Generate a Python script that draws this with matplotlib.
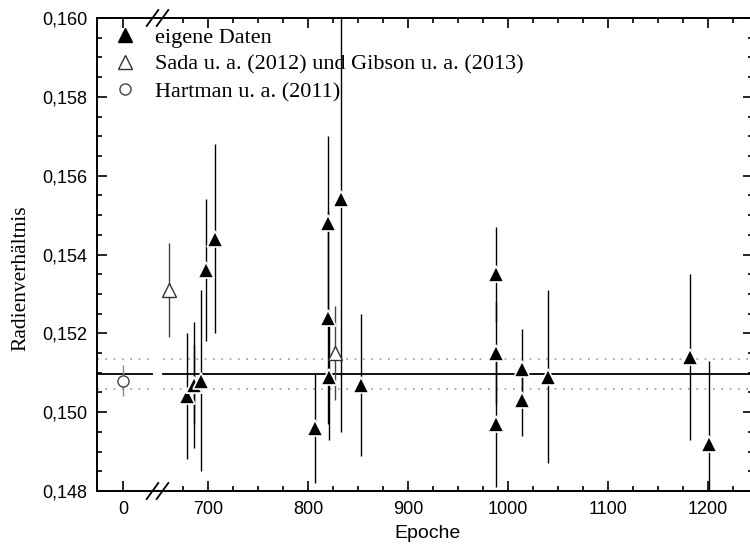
import matplotlib
matplotlib.use("Agg")
import matplotlib.pyplot as plt
from matplotlib.lines import Line2D
from matplotlib.ticker import FixedLocator, MultipleLocator, FuncFormatter

# eigene Daten
own_epoch = [679, 686, 686, 693, 698, 707, 807, 820, 820, 821, 833, 853,
             988, 988, 988, 1014, 1014, 1040, 1182, 1201]
own_ratio = [0.1504, 0.1507, 0.1507, 0.1508, 0.1536, 0.1544, 0.1496, 0.1548, 0.1524, 0.1509, 0.1554, 0.1507,
             0.1535, 0.1515, 0.1497, 0.1511, 0.1503, 0.1509, 0.1514, 0.1492]
own_err = [0.0016, 0.0016, 0.0010, 0.0023, 0.0018, 0.0024, 0.0014, 0.0022, 0.0027, 0.0016, 0.0059, 0.0018,
           0.0012, 0.0013, 0.0016, 0.0010, 0.0009, 0.0022, 0.0021, 0.0021]

# Sada u. a. (2012) und Gibson u. a. (2013)
sada_epoch = [661, 827]
sada_ratio = [0.1531, 0.1515]
sada_err = [0.0012, 0.0012]

# Hartman u. a. (2011)
hart_epoch = [0]
hart_ratio = [0.1508]
hart_err = [0.0004]

mean_ratio = 0.15097
mean_sigma = 0.00038

labels = ["eigene Daten", "Sada u. a. (2012) und Gibson u. a. (2013)", "Hartman u. a. (2011)"]

SERIF = ["Liberation Serif", "DejaVu Serif"]
SANS = ["Liberation Sans", "DejaVu Sans"]
plt.rcParams['font.family'] = SANS

W, H = 750, 545
fig = plt.figure(figsize=(W / 100, H / 100), dpi=100)


def px(x0, y0, x1, y1):
    # pixel box (top-left origin) -> figure fraction rect
    return [x0 / W, (H - y1) / H, (x1 - x0) / W, (y1 - y0) / H]


xb = 157.5
ax1 = fig.add_axes(px(97, 18, xb, 491))
ax2 = fig.add_axes(px(xb, 18, 753, 491))

ax1.set_xlim(-26, 34.5)
ax2.set_xlim(649.5, 1245)

fmt = FuncFormatter(lambda v, p: "{:.3f}".format(v).replace(".", ","))
for ax in (ax1, ax2):
    ax.set_ylim(0.148, 0.160)
    ax.yaxis.set_major_locator(MultipleLocator(0.002))
    ax.yaxis.set_minor_locator(MultipleLocator(0.0005))
    ax.yaxis.set_major_formatter(fmt)
    ax.tick_params(which='both', direction='in', width=1.2, top=True, labelsize=13, pad=7)
    ax.tick_params(which='major', length=7)
    ax.tick_params(which='minor', length=3.5)
    for s in ax.spines.values():
        s.set_linewidth(1.4)
    ax.patch.set_alpha(0)

ax1.spines['right'].set_visible(False)
ax1.tick_params(which='both', right=False)
ax1.xaxis.set_major_locator(FixedLocator([0]))
ax1.xaxis.set_minor_locator(FixedLocator([]))

ax2.spines['left'].set_visible(False)
ax2.tick_params(which='both', left=False, labelleft=False, right=True)
ax2.xaxis.set_major_locator(MultipleLocator(100))
ax2.xaxis.set_minor_locator(FixedLocator(list(range(675, 1250, 25))))

# Mittelwert und 1-sigma
for ax, a, b in ((ax1, 0.0, 0.904), (ax2, 0.0087, 1.0)):
    ax.axhline(mean_ratio, a, b, color='black', lw=1.3, zorder=1)
    for off in (-mean_sigma, mean_sigma):
        ax.axhline(mean_ratio + off, a, b, color='#999999', lw=1.2,
                   linestyle=(0, (1, 4)), zorder=1)

# Hartman
ax1.errorbar(hart_epoch, hart_ratio, yerr=hart_err, fmt='none', ecolor='#888888', elinewidth=1.0, zorder=2)
ax1.plot(hart_epoch, hart_ratio, 'o', ms=8, mfc='white', mec='#444444', mew=1.0, zorder=3)

# Sada / Gibson
ax2.errorbar(sada_epoch, sada_ratio, yerr=sada_err, fmt='none', ecolor='#444444', elinewidth=1.0, zorder=2)
ax2.plot(sada_epoch, sada_ratio, '^', ms=10, mfc='white', mec='#333333', mew=1.0, zorder=3)

# eigene Daten
ax2.errorbar(own_epoch, own_ratio, yerr=own_err, fmt='none', ecolor='black', elinewidth=1.0, zorder=2)
ax2.plot(own_epoch, own_ratio, '^', ms=11, mfc='black', mec='white', mew=1.2, zorder=4)

# Achsenbruch-Markierungen
for yb in (491, 18):
    for dx in (0, 10):
        fig.add_artist(Line2D([(146.7 + dx) / W, (158.3 + dx) / W],
                              [(H - yb - 8) / H, (H - yb + 8) / H],
                              color='black', lw=1.3))

fig.text(21 / W, (H - 278) / H, "Radienverhältnis", rotation=90, ha='center', va='center',
         family=SERIF, fontsize=15.5)
fig.text(428 / W, (H - 533) / H, "Epoche", ha='center', va='center', fontsize=14)

handles = [
    Line2D([], [], ls='none', marker='^', ms=10, mfc='black', mec='black'),
    Line2D([], [], ls='none', marker='^', ms=10, mfc='white', mec='#333333'),
    Line2D([], [], ls='none', marker='o', ms=8, mfc='white', mec='#444444'),
]
fig.legend(handles, labels, loc='upper left', bbox_to_anchor=(113.9 / W, (H - 27) / H),
           frameon=False, prop={'family': SERIF, 'size': 16}, handlelength=1.0,
           handletextpad=0.85, labelspacing=0.3, borderpad=0, borderaxespad=0)

fig.savefig("out.png", dpi=100)
